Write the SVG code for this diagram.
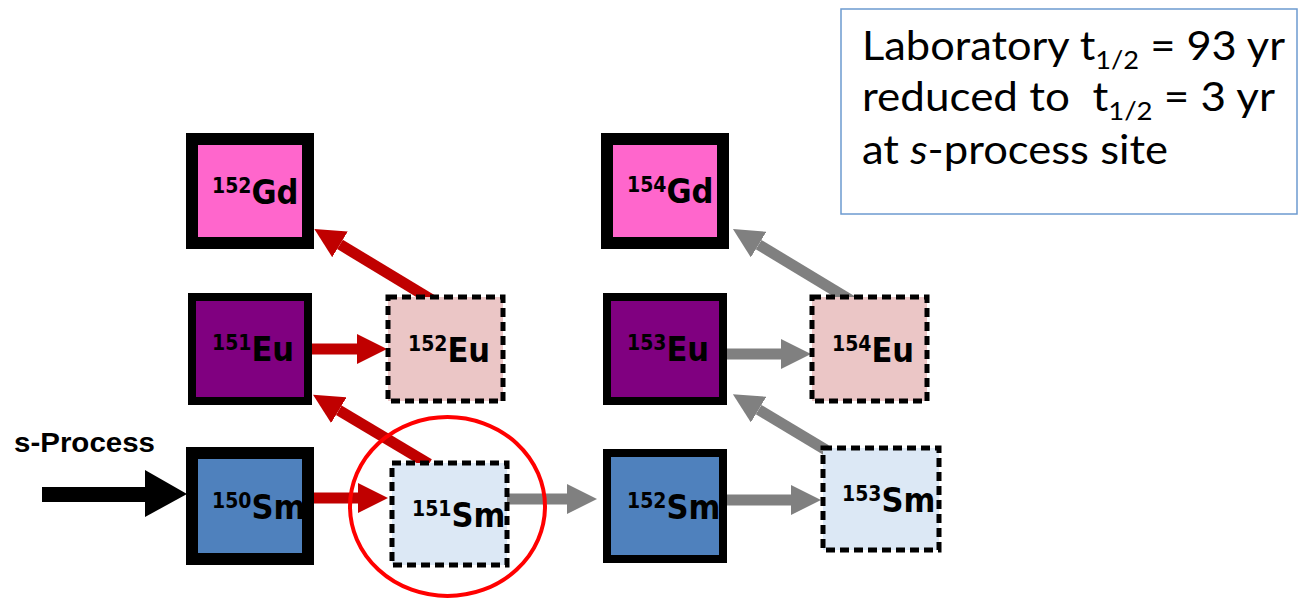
<svg xmlns="http://www.w3.org/2000/svg" width="1300" height="599" viewBox="0 0 1300 599">
  <defs>
    <style>
      .solid { stroke: #000; }
      .dashed { stroke: #000; stroke-width: 5; stroke-dasharray: 9 5; }
      .gd { fill: #FF66CC; }
      .eu { fill: #800080; }
      .sm { fill: #4F81BD; }
      .eu-r { fill: #EBC6C6; }
      .sm-r { fill: #DCE8F5; }
      .lbl { font-family: "DejaVu Sans Condensed", "DejaVu Sans", sans-serif; font-stretch: condensed; font-weight: bold; font-size: 34px; fill: #000; }
      .lbl .sup { font-size: 21px; }
      .red { stroke: #C00000; stroke-width: 11; fill: none; }
      .gray { stroke: #808080; stroke-width: 11; fill: none; }
      .note { font-family: "Lato", "Liberation Sans", sans-serif; font-size: 40px; fill: #000; }
      .note .sub { font-size: 25px; }
    </style>
    <marker id="head-red" markerUnits="userSpaceOnUse" markerWidth="30" markerHeight="30" viewBox="0 0 30 30" refX="0" refY="15" orient="auto">
      <path d="M0,0 L30,15 L0,30 z" fill="#C00000"/>
    </marker>
    <marker id="head-gray" markerUnits="userSpaceOnUse" markerWidth="30" markerHeight="30" viewBox="0 0 30 30" refX="0" refY="15" orient="auto">
      <path d="M0,0 L30,15 L0,30 z" fill="#808080"/>
    </marker>
  </defs>

  <rect width="1300" height="599" fill="#fff"/>

  <!-- connectors: neutron captures (horizontal) and beta decays (diagonal) -->
  <g id="connectors">
    <line class="red" x1="312" y1="349" x2="357" y2="349" marker-end="url(#head-red)"/>
    <line class="red" x1="312" y1="498" x2="358" y2="498" marker-end="url(#head-red)"/>
    <line class="red" x1="432" y1="300" x2="340" y2="244.4" marker-end="url(#head-red)"/>
    <line class="red" x1="429" y1="464" x2="338.8" y2="410.2" marker-end="url(#head-red)"/>
    <line class="gray" x1="505" y1="499" x2="567" y2="499" marker-end="url(#head-gray)"/>
    <line class="gray" x1="725" y1="354" x2="781" y2="354" marker-end="url(#head-gray)"/>
    <line class="gray" x1="725" y1="500" x2="791" y2="500" marker-end="url(#head-gray)"/>
    <line class="gray" x1="852" y1="301" x2="758.6" y2="244.6" marker-end="url(#head-gray)"/>
    <line class="gray" x1="826" y1="450" x2="758.6" y2="409.6" marker-end="url(#head-gray)"/>
    <!-- s-process inflow -->
    <line x1="42" y1="494.5" x2="146" y2="494.5" stroke="#000" stroke-width="15"/>
    <path d="M145,470 L187,494 L145,517 z" fill="#000"/>
  </g>

  <g id="label-s-process">
    <text x="14" y="452" font-family="Liberation Sans, sans-serif" font-weight="bold" font-size="28" textLength="141" lengthAdjust="spacingAndGlyphs">s-Process</text>
  </g>

  <!-- stable isotopes -->
  <g id="gd152">
    <rect class="solid gd" x="192" y="139" width="116" height="104" stroke-width="12"/>
    <text class="lbl" x="212" y="204"><tspan class="sup" dy="-11">152</tspan><tspan dy="11">Gd</tspan></text>
  </g>
  <g id="gd154">
    <rect class="solid gd" x="607" y="139" width="116" height="104" stroke-width="12"/>
    <text class="lbl" x="627" y="203"><tspan class="sup" dy="-11">154</tspan><tspan dy="11">Gd</tspan></text>
  </g>
  <g id="eu151">
    <rect class="solid eu" x="192" y="297" width="116" height="104" stroke-width="8"/>
    <text class="lbl" x="212" y="361"><tspan class="sup" dy="-11">151</tspan><tspan dy="11">Eu</tspan></text>
  </g>
  <g id="eu153">
    <rect class="solid eu" x="607" y="297" width="116" height="104" stroke-width="8"/>
    <text class="lbl" x="627" y="361"><tspan class="sup" dy="-11">153</tspan><tspan dy="11">Eu</tspan></text>
  </g>
  <g id="sm150">
    <rect class="solid sm" x="192" y="453" width="116" height="106" stroke-width="12"/>
    <text class="lbl" x="212" y="519"><tspan class="sup" dy="-11">150</tspan><tspan dy="11">Sm</tspan></text>
  </g>
  <g id="sm152">
    <rect class="solid sm" x="607" y="453" width="116" height="106" stroke-width="8"/>
    <text class="lbl" x="627" y="519"><tspan class="sup" dy="-11">152</tspan><tspan dy="11">Sm</tspan></text>
  </g>

  <!-- radioactive isotopes -->
  <g id="eu152">
    <rect class="dashed eu-r" x="388" y="297" width="115" height="104"/>
    <text class="lbl" x="408" y="362"><tspan class="sup" dy="-11">152</tspan><tspan dy="11">Eu</tspan></text>
  </g>
  <g id="eu154">
    <rect class="dashed eu-r" x="812" y="297" width="115" height="104"/>
    <text class="lbl" x="832" y="362"><tspan class="sup" dy="-11">154</tspan><tspan dy="11">Eu</tspan></text>
  </g>
  <g id="sm151">
    <rect class="dashed sm-r" x="392" y="463" width="115" height="102"/>
    <text class="lbl" x="412" y="527"><tspan class="sup" dy="-11">151</tspan><tspan dy="11">Sm</tspan></text>
  </g>
  <g id="sm153">
    <rect class="dashed sm-r" x="823" y="448" width="116" height="102"/>
    <text class="lbl" x="842" y="512"><tspan class="sup" dy="-11">153</tspan><tspan dy="11">Sm</tspan></text>
  </g>

  <!-- branching point highlight -->
  <g id="highlight">
    <ellipse cx="447.5" cy="506.5" rx="97.5" ry="89.5" fill="none" stroke="#FF0000" stroke-width="4"/>
  </g>

  <g id="note">
    <rect x="841" y="9" width="456" height="205" fill="#fff" stroke="#6C9AD0" stroke-width="1.5"/>
    <text class="note" x="862" y="60" textLength="423" lengthAdjust="spacingAndGlyphs">Laboratory t<tspan class="sub" dy="9">1/2</tspan><tspan dy="-9"> = 93 yr</tspan></text>
    <text class="note" x="862" y="111" xml:space="preserve" textLength="413" lengthAdjust="spacingAndGlyphs">reduced to  t<tspan class="sub" dy="9">1/2</tspan><tspan dy="-9"> = 3 yr</tspan></text>
    <text class="note" x="862" y="164" textLength="306" lengthAdjust="spacingAndGlyphs">at <tspan font-style="italic">s</tspan>-process site</text>
  </g>
</svg>
